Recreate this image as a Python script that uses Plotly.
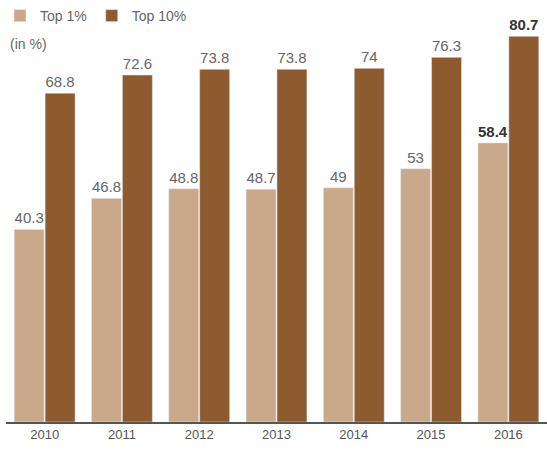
import plotly.graph_objects as go

years = ["2010", "2011", "2012", "2013", "2014", "2015", "2016"]
top1 = [40.3, 46.8, 48.8, 48.7, 49, 53, 58.4]
top10 = [68.8, 72.6, 73.8, 73.8, 74, 76.3, 80.7]

def labels(vals):
    out = []
    for i, v in enumerate(vals):
        s = f"{v:g}"
        out.append(f"<b>{s}</b>" if i == len(vals) - 1 else s)
    return out

def label_colors(vals):
    return ["#333333" if i == len(vals) - 1 else "#666666" for i in range(len(vals))]

FONT = "Liberation Sans Narrow, Arial Narrow, Liberation Sans, sans-serif"

fig = go.Figure()
fig.add_trace(go.Bar(
    name="Top 1%", x=years, y=top1, marker_color="#caa98b",
    text=labels(top1), textposition="outside", cliponaxis=False,
    textfont=dict(family=FONT, size=15, color=label_colors(top1)),
))
fig.add_trace(go.Bar(
    name="Top 10%", x=years, y=top10, marker_color="#8d5b2e",
    text=labels(top10), textposition="outside", cliponaxis=False,
    textfont=dict(family=FONT, size=15, color=label_colors(top10)),
))

fig.update_layout(
    width=547, height=450,
    margin=dict(l=6, r=0, t=0, b=28),
    paper_bgcolor="white", plot_bgcolor="white",
    barmode="group", bargap=0.2, bargroupgap=0.03,
    font=dict(family=FONT, color="#666666"),
    showlegend=True,
    legend=dict(orientation="h", x=-0.012, y=1.0, xanchor="left", yanchor="top",
                font=dict(family=FONT, size=14, color="#666666"),
                itemwidth=30, bgcolor="rgba(0,0,0,0)", tracegroupgap=0),
    xaxis=dict(showline=True, linecolor="#555555", linewidth=1.5, ticks="",
               tickfont=dict(family=FONT, size=13, color="#555555"),
               showgrid=False),
    yaxis=dict(range=[0, 88.3], visible=False, showgrid=False),
    annotations=[dict(text="(in %)", x=0.0, y=1.0, xref="paper", yref="paper",
                      xanchor="left", yanchor="top", yshift=-34, xshift=2,
                      showarrow=False,
                      font=dict(family=FONT, size=14, color="#666666"))],
)

fig.write_html("out.html")
